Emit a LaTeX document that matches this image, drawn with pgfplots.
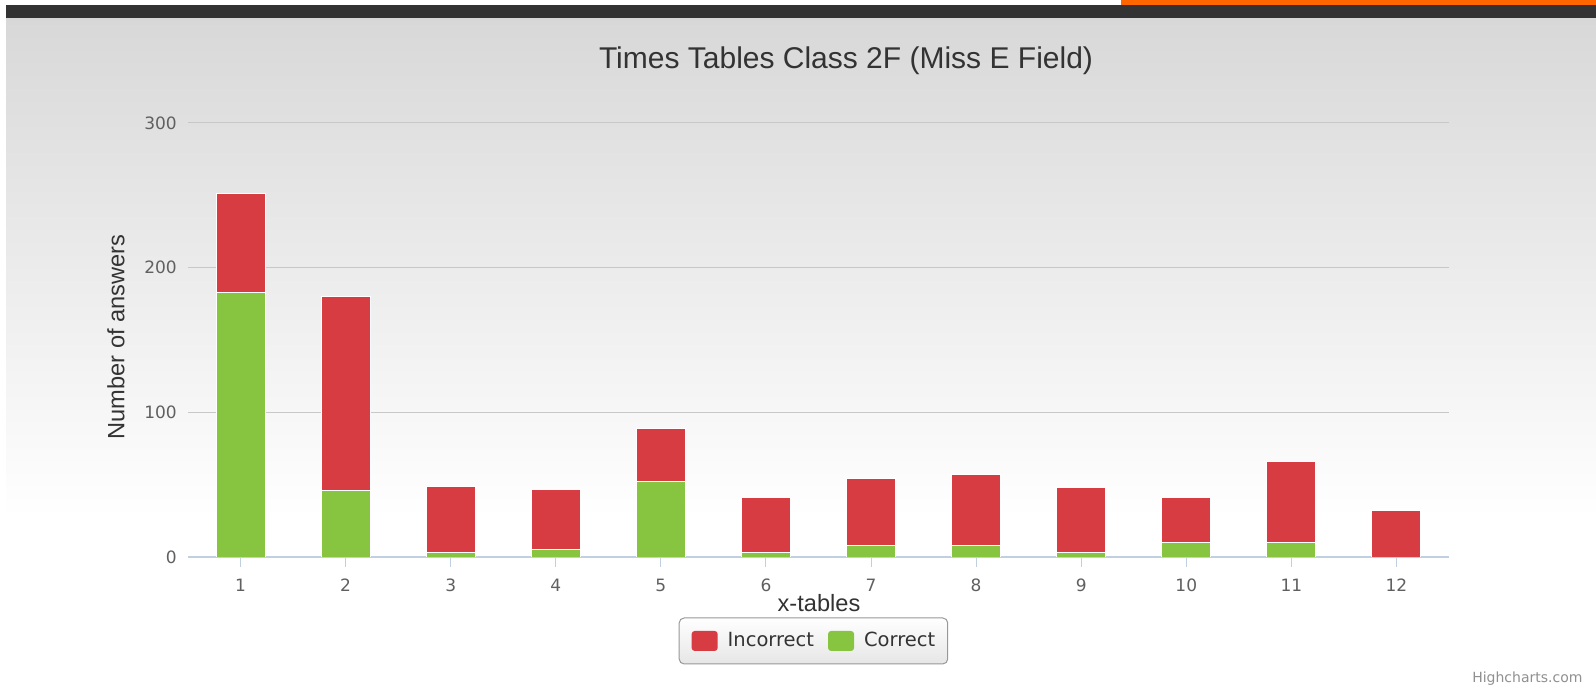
\documentclass[border=0pt]{standalone}
\usepackage{fontspec}
\setmainfont{Liberation Sans}
\newfontfamily\dejavu{DejaVu Sans}
\usepackage{pgfplots}
\pgfplotsset{compat=1.18}
\definecolor{barred}{HTML}{D63C41}
\definecolor{bargreen}{HTML}{87C540}
\definecolor{bgtop}{HTML}{D8D8D8}
\definecolor{darkband}{HTML}{333333}
\definecolor{orangeband}{HTML}{FF6600}
\definecolor{gridcol}{HTML}{C8C8C8}
\definecolor{axiscol}{HTML}{C0D0E0}
\definecolor{tickcol}{HTML}{606060}
\definecolor{titlecol}{HTML}{333333}
\definecolor{legborder}{HTML}{989898}
\definecolor{legbot}{HTML}{E6E6E6}
\definecolor{creditcol}{HTML}{909090}
\begin{document}
\begin{tikzpicture}
\fill[white] (0,0) rectangle (1596bp,688bp);
\shade[top color=bgtop, bottom color=white] (6bp,170bp) rectangle (1596bp,670bp);
\fill[darkband] (6bp,670bp) rectangle (1596bp,683bp);
\fill[orangeband] (1121bp,683bp) rectangle (1596bp,688bp);
\begin{axis}[
  at={(188bp,131bp)}, anchor=south west,
  scale only axis, width=1261bp, height=434bp,
  xmin=0.5, xmax=12.5, ymin=0, ymax=300,
  ybar stacked, bar width=49bp,
  xtick={1,...,12}, ytick={0,100,200,300},
  axis x line*=bottom, axis y line*=left,
  x axis line style={draw=axiscol, line width=1.5bp, -},
  y axis line style={draw=none},
  ymajorgrids, grid style={draw=gridcol, line width=1bp},
  tick align=outside, major tick length=10bp,
  xtick style={draw=axiscol, line width=1bp},
  ytick style={draw=none},
  /pgf/number format/assume math mode=true,
  ticklabel style={font=\dejavu\fontsize{17bp}{20bp}\selectfont, text=tickcol},
  xticklabel style={anchor=north, inner sep=0pt, yshift=-12bp},
  yticklabel style={anchor=east, inner sep=0pt, xshift=-1bp},
  title={Times Tables Class 2F (Miss E Field)},
  title style={at={(axis description cs:0.5218,1.1129)}, anchor=base, font=\fontsize{30bp}{36bp}\selectfont, text=titlecol},
  xlabel={x-tables},
  xlabel style={at={(axis description cs:0.5004,-0.1267)}, anchor=base, font=\fontsize{23.6bp}{28bp}\selectfont, text=titlecol},
  ylabel={Number of answers},
  ylabel style={at={(axis description cs:-0.0571,0.507)}, anchor=center, font=\fontsize{23.6bp}{28bp}\selectfont, text=titlecol},
  legend columns=2, reverse legend,
  legend style={at={(axis description cs:0.4960,-0.1935)}, anchor=center,
    draw=legborder, line width=1bp, rounded corners=5bp,
    top color=white, bottom color=legbot,
    font=\dejavu\fontsize{19.5bp}{23bp}\selectfont, text=titlecol,
    nodes={inner sep=0pt},
    inner xsep=12.5bp, inner ysep=13bp,
    /tikz/every odd column/.append style={column sep=10bp},
    /tikz/every even column/.append style={column sep=14bp}},
  legend image code/.code={\fill[#1, draw=none, rounded corners=3bp] (0bp,-11bp) rectangle (26bp,9bp);},
]
\addplot+[fill=bargreen, draw=white, line width=1bp] coordinates {
(1,183) (2,46) (3,3) (4,5) (5,52) (6,3) (7,8) (8,8) (9,3) (10,10) (11,10) (12,0)};
\addplot+[fill=barred, draw=white, line width=1bp] coordinates {
(1,68) (2,134) (3,46) (4,42) (5,37) (6,38) (7,46) (8,49) (9,45) (10,31) (11,56) (12,32)};
\legend{Correct, Incorrect}
\end{axis}
\node[anchor=base east, font=\dejavu\fontsize{14bp}{16bp}\selectfont, text=creditcol] at (1586bp,6bp) {Highcharts.com};
\pgfresetboundingbox
\path (0,0) rectangle (1596bp,688bp);
\end{tikzpicture}
\end{document}
